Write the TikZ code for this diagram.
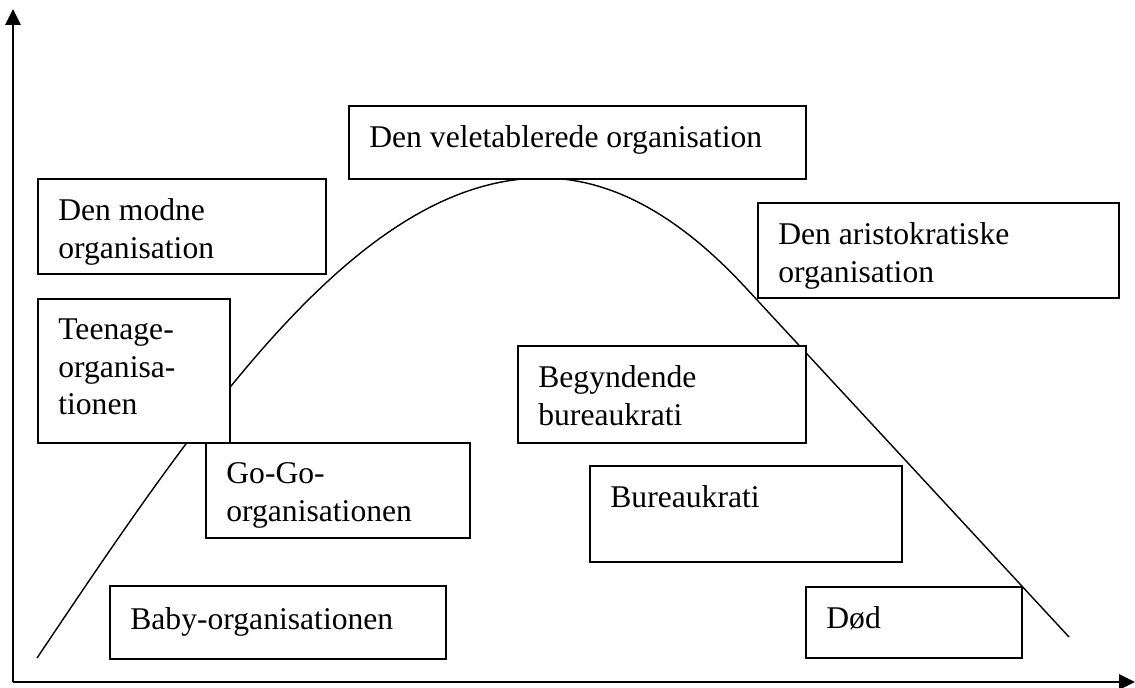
\documentclass[tikz,border=0pt]{standalone}
\usepackage{fontspec}
\setmainfont{Liberation Serif}
\usetikzlibrary{arrows.meta}

\tikzset{
  fase/.style={draw=black, fill=white, line width=1.1pt, anchor=north west, inner sep=0pt},
  fasetekst/.style={anchor=north west, align=left, inner sep=0pt, font=\fontsize{18}{21.6}\selectfont},
  akse/.style={line width=1.5pt, -{Triangle[length=0.32cm, width=0.3cm]}},
}

\begin{document}
\begin{tikzpicture}[x=0.02cm, y=-0.02cm]
\useasboundingbox (0,0) rectangle (1135,688);

% akser
\coordinate (origo) at (13,682);
\coordinate (ytop) at (13,9);
\coordinate (xslut) at (1135,682);
\draw[akse] (origo) -- (ytop);
\draw[akse] (origo) -- (xslut);

% livscyklus
\draw[line width=0.8pt] plot[domain=37:543, samples=60] (\x, {178+480*(1-cos(0.17787*(543-\x)))})
  -- plot[domain=543:745, samples=30] (\x, {178+0.00267*(\x-543)*(\x-543)})
  -- (1069,637);

% faser
\node[fase, minimum width=9.14cm, minimum height=1.46cm] (velet) at (348,105) {};
\node[fasetekst] (velet-t) at ([shift={(21,20)}]velet.north west) {Den veletablerede organisation};

\node[fase, minimum width=5.76cm, minimum height=1.90cm] (modne) at (37,178) {};
\node[fasetekst] (modne-t) at ([shift={(21,20)}]modne.north west) {Den modne\\organisation};

\node[fase, minimum width=7.22cm, minimum height=1.90cm] (aristo) at (757,202) {};
\node[fasetekst] (aristo-t) at ([shift={(21,20)}]aristo.north west) {Den aristokratiske\\organisation};

\node[fase, minimum width=3.84cm, minimum height=2.88cm] (teen) at (37,298) {};
\node[fasetekst] (teen-t) at ([shift={(21,20)}]teen.north west) {Teenage-\\organisa-\\tionen};

\node[fase, minimum width=5.76cm, minimum height=1.94cm] (begynd) at (517,345) {};
\node[fasetekst] (begynd-t) at ([shift={(21,20)}]begynd.north west) {Begyndende\\bureaukrati};

\node[fase, minimum width=5.28cm, minimum height=1.90cm] (gogo) at (205,442) {};
\node[fasetekst] (gogo-t) at ([shift={(21,20)}]gogo.north west) {Go-Go-\\organisationen};

\node[fase, minimum width=6.24cm, minimum height=1.92cm] (bureau) at (589,465) {};
\node[fasetekst] (bureau-t) at ([shift={(21,20)}]bureau.north west) {Bureaukrati};

\node[fase, minimum width=6.72cm, minimum height=1.46cm] (baby) at (109,585) {};
\node[fasetekst] (baby-t) at ([shift={(21,22)}]baby.north west) {Baby-organisationen};

\node[fase, minimum width=4.32cm, minimum height=1.42cm] (dod) at (805,586) {};
\node[fasetekst] (dod-t) at ([shift={(21,20)}]dod.north west) {Død};
\end{tikzpicture}
\end{document}
